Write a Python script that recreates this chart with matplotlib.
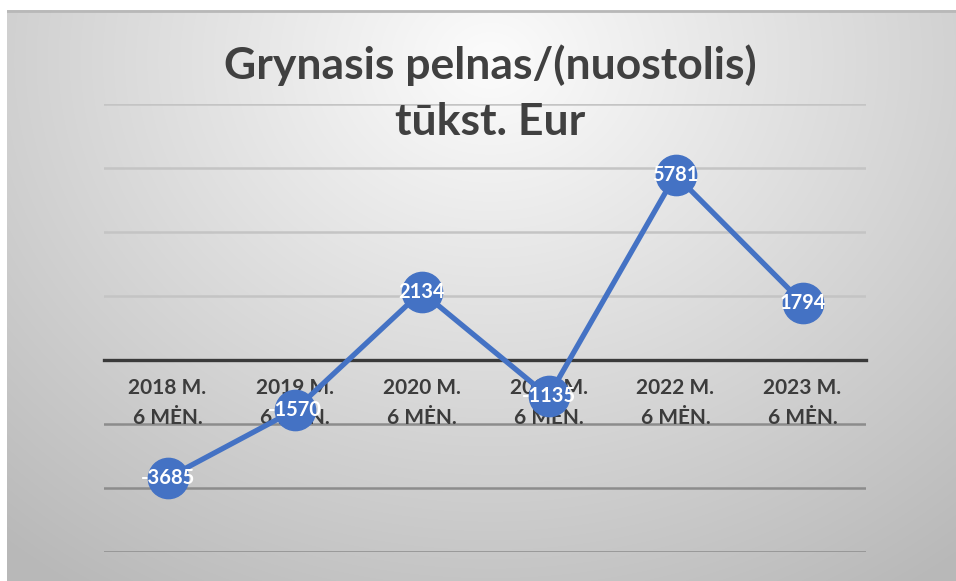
import numpy as np
import matplotlib
matplotlib.use("Agg")
import matplotlib.pyplot as plt

categories = ["2018 M.\n6 MĖN.", "2019 M.\n6 MĖN.", "2020 M.\n6 MĖN.",
              "2021 M.\n6 MĖN.", "2022 M.\n6 MĖN.", "2023 M.\n6 MĖN."]
values = [-3685, -1570, 2134, -1135, 5781, 1794]
labels = ["-3685", "-1570", "2134", "-1135", "5781", "1794"]
yticks = [-6000, -4000, -2000, 2000, 4000, 6000, 8000]
title = "Grynasis pelnas/(nuostolis)\ntūkst. Eur"

W, H = 956, 581
fig = plt.figure(figsize=(W / 100, H / 100), dpi=100)
fig.patch.set_facecolor("white")

# gradient background for chart area
bx0, by0, bx1, by1 = 7, 10, 956, 581
bg = fig.add_axes([bx0 / W, 1 - by1 / H, (bx1 - bx0) / W, (by1 - by0) / H])
yy, xx = np.mgrid[by0:by1, bx0:bx1]
d = np.sqrt(((xx - 490) / 1.0) ** 2 + ((yy - 60) / 0.85) ** 2)
g = 252 - 56 * np.clip(d / 620, 0, 1.2)
img = np.dstack([g, g, g]) / 255.0
bg.imshow(img, aspect="auto", extent=[0, 1, 0, 1])
bg.set_axis_off()
bg.plot([0, 1], [0.999, 0.999], color="#b8b8b8", lw=2, transform=bg.transAxes)

ax = fig.add_axes([104 / W, 1 - 552 / H, (866 - 104) / W, (552 - 104) / H])
ax.patch.set_alpha(0)
ax.set_xlim(-0.5, 5.5)
ax.set_ylim(-6000, 8000)

for t in yticks:
    col = "#c4c4c4" if t > 0 else "#8c8c8c"
    ax.axhline(t, color=col, lw=1.8, zorder=1)

for s in ["top", "right", "left"]:
    ax.spines[s].set_visible(False)
ax.spines["bottom"].set_position(("data", 0))
ax.spines["bottom"].set_color("#3a3a3a")
ax.spines["bottom"].set_linewidth(2.4)
ax.spines["bottom"].set_zorder(1.5)
ax.set_yticks([])

x = np.arange(len(categories))
ax.plot(x, values, color="#4472C4", lw=3.8, marker="o", markersize=29,
        markerfacecolor="#4472C4", markeredgecolor="#4472C4", zorder=2)

ax.set_xticks(x)
ax.set_xticklabels(categories, fontsize=15, fontweight="bold", color="#3c3c3c",
                   family="Lato", linespacing=1.62)
ax.tick_params(axis="x", length=0, pad=13)
for lab in ax.get_xticklabels():
    lab.set_zorder(3)

for xi, v, lb in zip(x, values, labels):
    ax.text(xi, v, lb, ha="center", va="center", color="white", fontsize=14.5,
            fontweight="bold", family="Lato", zorder=4)

fig.text(490 / W, 1 - 93 / H, title, ha="center", va="center", fontsize=32,
         fontweight="bold", color="#404040", family="Lato", linespacing=1.48)

fig.savefig("out.png", dpi=100)
